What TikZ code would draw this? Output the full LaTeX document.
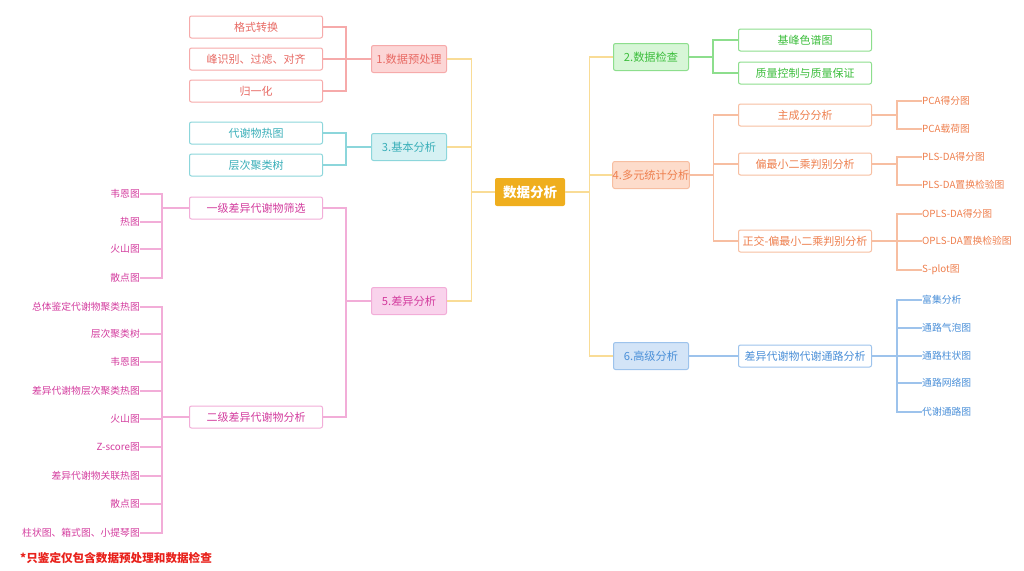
\documentclass[tikz,border=0pt]{standalone}
\usepackage{fontspec}
\setmainfont{Noto Sans CJK SC}
\definecolor{gold}{HTML}{EFAE1E}
\definecolor{trunk}{HTML}{F9DC96}
\definecolor{redtx}{HTML}{E86A64}
\definecolor{redln}{HTML}{F6AAAA}
\definecolor{redfl}{HTML}{FCD6D6}
\definecolor{teatx}{HTML}{3AAFB9}
\definecolor{tealn}{HTML}{8CD6DB}
\definecolor{teafl}{HTML}{D6F1F3}
\definecolor{pnktx}{HTML}{D33C9E}
\definecolor{pnkln}{HTML}{F2ADD8}
\definecolor{pnkfl}{HTML}{F9D3EC}
\definecolor{grntx}{HTML}{3DBE3D}
\definecolor{grnln}{HTML}{8DDE8D}
\definecolor{grnfl}{HTML}{D7F6D7}
\definecolor{orgtx}{HTML}{EE7F4E}
\definecolor{orgln}{HTML}{F7BEA1}
\definecolor{orgfl}{HTML}{FDDCCB}
\definecolor{blutx}{HTML}{4A8FD8}
\definecolor{bluln}{HTML}{9DC3EC}
\definecolor{blufl}{HTML}{D3E4F7}
\definecolor{notered}{HTML}{E8201A}
\begin{document}
\begin{tikzpicture}[x=1pt,y=-1pt]

\tikzset{root/.style = {shape=rectangle,rounded corners=2pt,fill=gold,text=white,minimum width=70pt,minimum height=28pt,inner sep=0pt,font=\fontsize{13.5}{14}\selectfont\bfseries}}
\tikzset{topic/.style = {shape=rectangle,rounded corners=2pt,draw,line width=1pt,minimum width=75pt,minimum height=27pt,inner sep=0pt,font=\fontsize{11.2}{13}\selectfont}}
\tikzset{sub/.style = {shape=rectangle,rounded corners=2pt,draw,fill=white,line width=1pt,minimum width=133pt,minimum height=22pt,inner sep=0pt,font=\fontsize{11}{12}\selectfont}}
\tikzset{leafl/.style = {anchor=east,inner sep=0pt,font=\fontsize{9.8}{11}\selectfont}}
\tikzset{leafr/.style = {anchor=west,inner sep=0pt,font=\fontsize{9.8}{11}\selectfont}}
\tikzset{edge/.style = {line width=1.1pt}}
\useasboundingbox (0,0) rectangle (1024,570);

%root
\node[root] (r) at (530,192) {数据分析};
%main topics
\node[topic, draw=redln, fill=redfl, text=redtx] (p1) at (409,59) {1.数据预处理};
\node[topic, draw=tealn, fill=teafl, text=teatx] (p3) at (409,147) {3.基本分析};
\node[topic, draw=pnkln, fill=pnkfl, text=pnktx] (p5) at (409,301) {5.差异分析};
\node[topic, draw=grnln, fill=grnfl, text=grntx] (p2) at (651,57) {2.数据检查};
\node[topic, draw=orgln, fill=orgfl, text=orgtx] (p4) at (651,175) {4.多元统计分析};
\node[topic, draw=bluln, fill=blufl, text=blutx] (p6) at (651,356) {6.高级分析};
%subtopics
\node[sub, draw=redln, text=redtx] (s1a) at (256,27) {格式转换};
\node[sub, draw=redln, text=redtx] (s1b) at (256,59) {峰识别、过滤、对齐};
\node[sub, draw=redln, text=redtx] (s1c) at (256,91) {归一化};
\node[sub, draw=tealn, text=teatx] (s3a) at (256,133) {代谢物热图};
\node[sub, draw=tealn, text=teatx] (s3b) at (256,165) {层次聚类树};
\node[sub, draw=pnkln, text=pnktx] (s5a) at (256,208) {一级差异代谢物筛选};
\node[sub, draw=pnkln, text=pnktx] (s5b) at (256,417) {二级差异代谢物分析};
\node[sub, draw=grnln, text=grntx] (s2a) at (805,40) {基峰色谱图};
\node[sub, draw=grnln, text=grntx] (s2b) at (805,73) {质量控制与质量保证};
\node[sub, draw=orgln, text=orgtx] (s4a) at (805,115) {主成分分析};
\node[sub, draw=orgln, text=orgtx] (s4b) at (805,164) {偏最小二乘判别分析};
\node[sub, draw=orgln, text=orgtx] (s4c) at (805,241) {正交-偏最小二乘判别分析};
\node[sub, draw=bluln, text=blutx] (s6a) at (805,356) {差异代谢物代谢通路分析};
%leaves left
\node[leafl, text=pnktx] (a1) at (140,194) {韦恩图};
\node[leafl, text=pnktx] (a2) at (140,222) {热图};
\node[leafl, text=pnktx] (a3) at (140,249) {火山图};
\node[leafl, text=pnktx] (a4) at (140,278) {散点图};
\node[leafl, text=pnktx] (b1) at (140,307) {总体鉴定代谢物聚类热图};
\node[leafl, text=pnktx] (b2) at (140,334) {层次聚类树};
\node[leafl, text=pnktx] (b3) at (140,362) {韦恩图};
\node[leafl, text=pnktx] (b4) at (140,391) {差异代谢物层次聚类热图};
\node[leafl, text=pnktx] (b5) at (140,419) {火山图};
\node[leafl, text=pnktx] (b6) at (140,447) {Z-score图};
\node[leafl, text=pnktx] (b7) at (140,476) {差异代谢物关联热图};
\node[leafl, text=pnktx] (b8) at (140,504) {散点图};
\node[leafl, text=pnktx] (b9) at (140,533) {柱状图、箱式图、小提琴图};
%leaves right
\node[leafr, text=orgtx] (c1) at (922,101) {PCA得分图};
\node[leafr, text=orgtx] (c2) at (922,129) {PCA载荷图};
\node[leafr, text=orgtx] (d1) at (922,157) {PLS-DA得分图};
\node[leafr, text=orgtx] (d2) at (922,185) {PLS-DA置换检验图};
\node[leafr, text=orgtx] (e1) at (922,214) {OPLS-DA得分图};
\node[leafr, text=orgtx] (e2) at (922,241) {OPLS-DA置换检验图};
\node[leafr, text=orgtx] (e3) at (922,270) {S-plot图};
\node[leafr, text=blutx] (f1) at (922,300) {富集分析};
\node[leafr, text=blutx] (f2) at (922,328) {通路气泡图};
\node[leafr, text=blutx] (f3) at (922,356) {通路柱状图};
\node[leafr, text=blutx] (f4) at (922,383) {通路网络图};
\node[leafr, text=blutx] (f5) at (922,412) {代谢通路图};
%note
\node[anchor=west, inner sep=0pt, text=notered, font=\fontsize{11.6}{12}\selectfont\bfseries] (note) at (20,558) {*只鉴定仅包含数据预处理和数据检查};

%edges root
\draw[edge, trunk] (r.west) -- ++(-23,0) |- (p1.east);
\draw[edge, trunk] (r.west) -- ++(-23,0) |- (p3.east);
\draw[edge, trunk] (r.west) -- ++(-23,0) |- (p5.east);
\draw[edge, trunk] (r.east) -- ++(24,0) |- (p2.west);
\draw[edge, trunk] (r.east) -- ++(24,0) |- (p4.west);
\draw[edge, trunk] (r.east) -- ++(24,0) |- (p6.west);
%edges topics
\draw[edge, redln] (p1.west) -- ++(-25,0) |- (s1a.east);
\draw[edge, redln] (p1.west) -- ++(-25,0) |- (s1b.east);
\draw[edge, redln] (p1.west) -- ++(-25,0) |- (s1c.east);
\draw[edge, tealn] (p3.west) -- ++(-25,0) |- (s3a.east);
\draw[edge, tealn] (p3.west) -- ++(-25,0) |- (s3b.east);
\draw[edge, pnkln] (p5.west) -- ++(-25,0) |- (s5a.east);
\draw[edge, pnkln] (p5.west) -- ++(-25,0) |- (s5b.east);
\draw[edge, grnln] (p2.east) -- ++(24,0) |- (s2a.west);
\draw[edge, grnln] (p2.east) -- ++(24,0) |- (s2b.west);
\draw[edge, orgln] (p4.east) -- ++(24,0) |- (s4a.west);
\draw[edge, orgln] (p4.east) -- ++(24,0) |- (s4b.west);
\draw[edge, orgln] (p4.east) -- ++(24,0) |- (s4c.west);
\draw[edge, bluln] (p6.east) -- (s6a.west);
%edges leaves
\draw[edge, pnkln] (s5a.west) -- ++(-27,0) |- (a1.east);
\draw[edge, pnkln] (s5a.west) -- ++(-27,0) |- (a2.east);
\draw[edge, pnkln] (s5a.west) -- ++(-27,0) |- (a3.east);
\draw[edge, pnkln] (s5a.west) -- ++(-27,0) |- (a4.east);
\draw[edge, pnkln] (s5b.west) -- ++(-27,0) |- (b1.east);
\draw[edge, pnkln] (s5b.west) -- ++(-27,0) |- (b2.east);
\draw[edge, pnkln] (s5b.west) -- ++(-27,0) |- (b3.east);
\draw[edge, pnkln] (s5b.west) -- ++(-27,0) |- (b4.east);
\draw[edge, pnkln] (s5b.west) -- ++(-27,0) |- (b5.east);
\draw[edge, pnkln] (s5b.west) -- ++(-27,0) |- (b6.east);
\draw[edge, pnkln] (s5b.west) -- ++(-27,0) |- (b7.east);
\draw[edge, pnkln] (s5b.west) -- ++(-27,0) |- (b8.east);
\draw[edge, pnkln] (s5b.west) -- ++(-27,0) |- (b9.east);
\draw[edge, orgln] (s4a.east) -- ++(25,0) |- (c1.west);
\draw[edge, orgln] (s4a.east) -- ++(25,0) |- (c2.west);
\draw[edge, orgln] (s4b.east) -- ++(25,0) |- (d1.west);
\draw[edge, orgln] (s4b.east) -- ++(25,0) |- (d2.west);
\draw[edge, orgln] (s4c.east) -- ++(25,0) |- (e1.west);
\draw[edge, orgln] (s4c.east) -- ++(25,0) |- (e2.west);
\draw[edge, orgln] (s4c.east) -- ++(25,0) |- (e3.west);
\draw[edge, bluln] (s6a.east) -- ++(25,0) |- (f1.west);
\draw[edge, bluln] (s6a.east) -- ++(25,0) |- (f2.west);
\draw[edge, bluln] (s6a.east) -- ++(25,0) |- (f3.west);
\draw[edge, bluln] (s6a.east) -- ++(25,0) |- (f4.west);
\draw[edge, bluln] (s6a.east) -- ++(25,0) |- (f5.west);

\end{tikzpicture}
\end{document}
